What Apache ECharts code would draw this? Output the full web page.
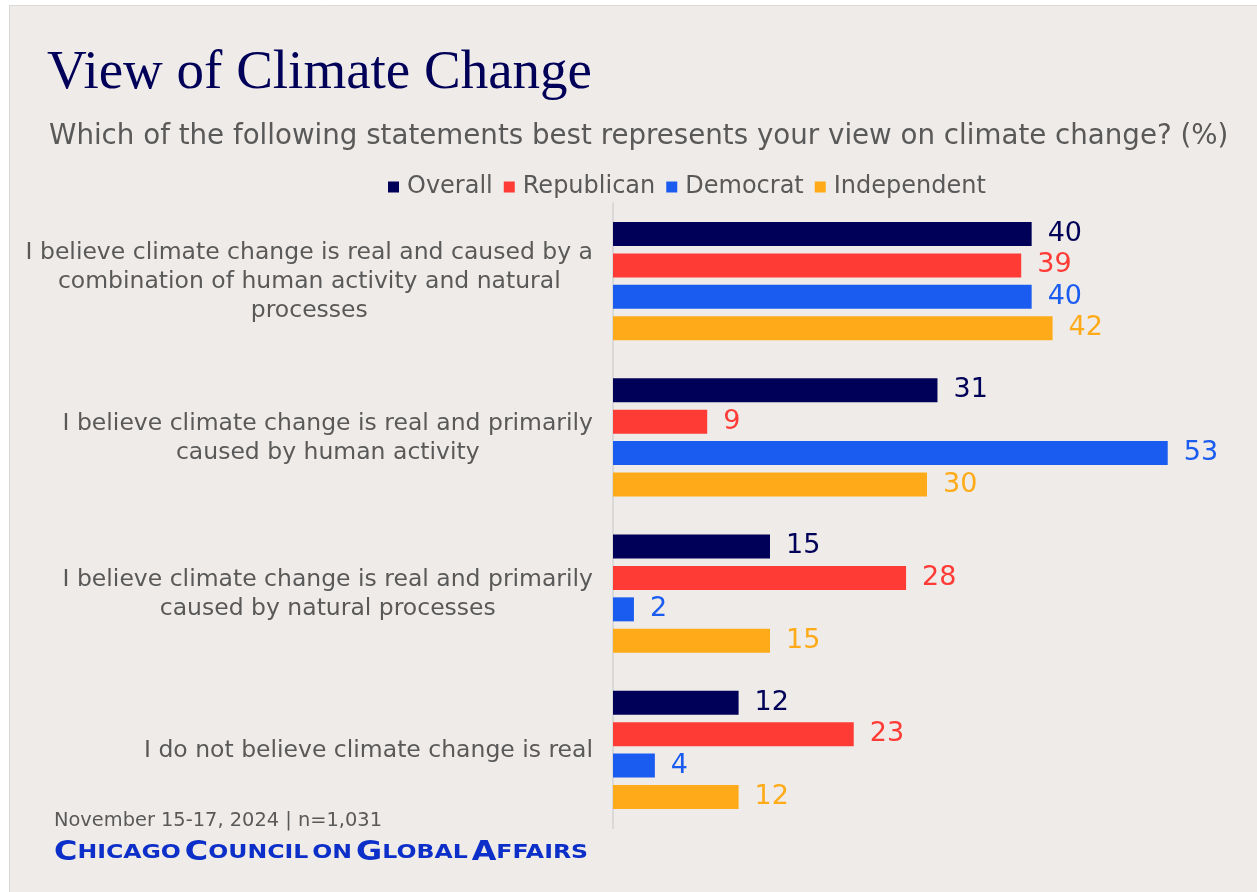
<!DOCTYPE html>
<html>
<head>
<meta charset="utf-8">
<script src="https://cdn.jsdelivr.net/npm/echarts@6/dist/echarts.min.js"></script>
<style>
html,body{margin:0;padding:0;background:#ffffff;}
#chart{width:1257px;height:892px;}
</style>
</head>
<body>
<div id="chart"></div>
<script>
var categories = [
  'I believe climate change is real and caused by a\ncombination of human activity and natural\nprocesses',
  'I believe climate change is real and primarily\ncaused by human activity',
  'I believe climate change is real and primarily\ncaused by natural processes',
  'I do not believe climate change is real'
];
var seriesNames = ['Overall', 'Republican', 'Democrat', 'Independent'];
var overall = [40, 31, 15, 12];
var republican = [39, 9, 28, 23];
var democrat = [40, 53, 2, 4];
var independent = [42, 30, 15, 12];
var titleText = 'View of Climate Change';
var subtitleText = 'Which of the following statements best represents your view on climate change? (%)';
var noteText = 'November 15-17, 2024 | n=1,031';

var colors = ['#000058', '#ff3b36', '#1b5cf0', '#ffab19'];
var values = [overall, republican, democrat, independent];
var FONT = 'DejaVu Sans';

var chart = echarts.init(document.getElementById('chart'), null, {renderer: 'canvas'});

var series = seriesNames.map(function (name, i) {
  return {
    name: name,
    type: 'bar',
    data: values[i],
    barWidth: 24,
    barGap: '31%',
    itemStyle: {color: colors[i]},
    label: {
      show: true,
      position: 'right',
      distance: 16,
      color: colors[i],
      fontFamily: FONT,
      fontSize: 27
    }
  };
});

chart.setOption({
  backgroundColor: '#ffffff',
  animation: false,
  graphic: [
    {type: 'rect', z: -10, shape: {x: 9.5, y: 5.5, width: 1260, height: 900},
     style: {fill: '#efebe8', stroke: '#d9d9d9', lineWidth: 1}},
    {type: 'text', left: 47, top: 46,
     style: {text: titleText, fill: '#000058', font: '55px "Liberation Serif"'}},
    {type: 'text', left: 49, top: 123,
     style: {text: subtitleText, fill: '#595959', font: '27.7px "DejaVu Sans"'}},
    {type: 'text', left: 54, top: 811,
     style: {text: noteText, fill: '#595959', font: '19.4px "DejaVu Sans"'}},
    {type: 'text', left: 54, top: 839, scaleX: 1.18, originX: 54,
     style: {
       text: '{b|C}{s|HICAGO} {b|C}{s|OUNCIL} {s|ON} {b|G}{s|LOBAL} {b|A}{s|FFAIRS}',
       rich: {
         b: {fontFamily: 'DejaVu Sans', fontSize: 27, fill: '#0b2fc8', fontWeight: 'bold'},
         s: {fontFamily: 'DejaVu Sans', fontSize: 20, fill: '#0b2fc8', fontWeight: 'bold'}
       },
       fill: '#0b2fc8'
     }}
  ],
  legend: {
    top: 170,
    left: 383,
    itemWidth: 11,
    itemHeight: 11,
    itemGap: 11,
    icon: 'rect',
    textStyle: {fontFamily: FONT, fontSize: 24, color: '#595959', padding: [0, 0, 0, 3]},
    data: seriesNames
  },
  grid: {left: 613, right: 16, top: 203, bottom: 64, containLabel: false},
  xAxis: {
    type: 'value', min: 0, max: 60, show: false
  },
  yAxis: {
    type: 'category',
    inverse: true,
    data: categories,
    axisLine: {show: true, lineStyle: {color: '#d9d9d9', width: 2}},
    axisTick: {show: false},
    axisLabel: {
      margin: 20,
      align: 'right',
      formatter: function (v) { return '{a|' + v.split('\n').join('}\n{a|') + '}'; },
      rich: {
        a: {align: 'center', fontFamily: 'DejaVu Sans', fontSize: 23.5, color: '#595959', lineHeight: 29, padding: [2, 0, 0, 0]}
      }
    }
  },
  series: series
});
</script>
</body>
</html>
